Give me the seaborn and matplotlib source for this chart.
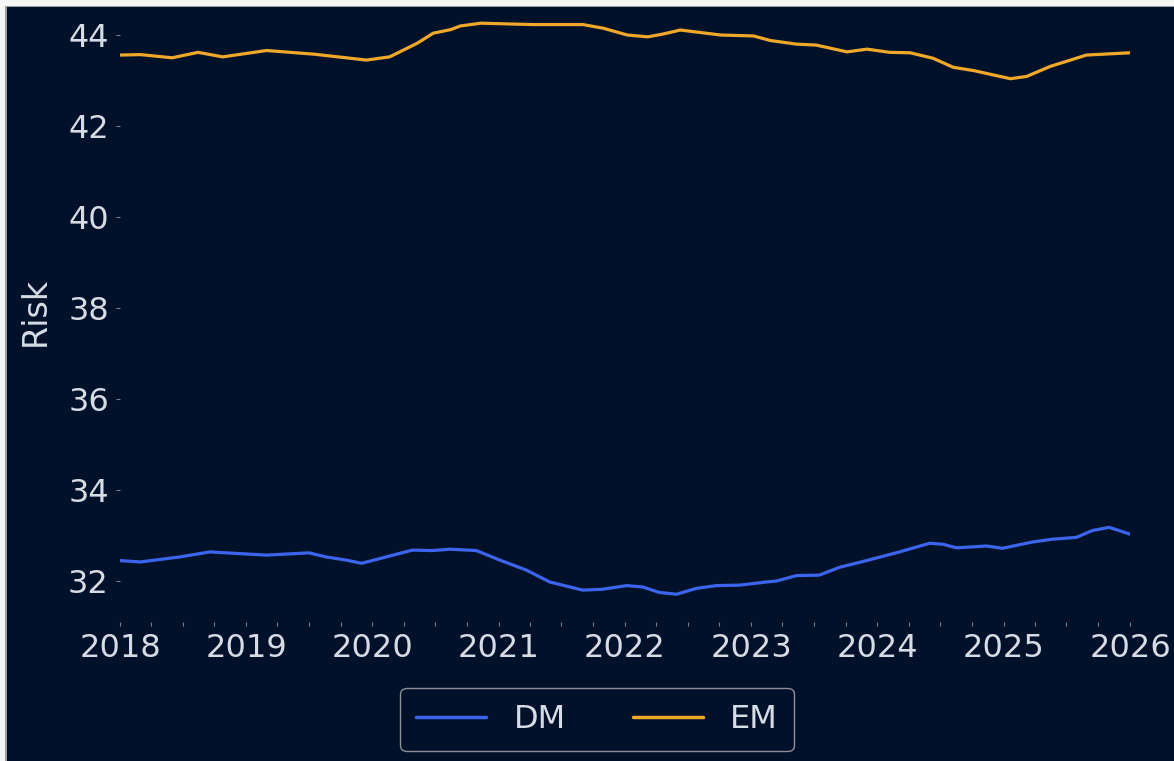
import matplotlib
matplotlib.use("Agg")
import matplotlib.pyplot as plt
import matplotlib.dates as mdates
from matplotlib.patches import Rectangle
import seaborn as sns
import pandas as pd

# Data
dm_dates = [
    "2018-01-01", "2018-03-01", "2018-06-23", "2018-09-18", "2019-03-01",
    "2019-07-02", "2019-08-20", "2019-10-18", "2019-12-01", "2020-02-20",
    "2020-04-26", "2020-06-23", "2020-08-12", "2020-10-28", "2021-01-04",
    "2021-03-22", "2021-05-28", "2021-09-01", "2021-10-28", "2022-01-06",
    "2022-02-21", "2022-04-10", "2022-05-30", "2022-07-27", "2022-09-23",
    "2022-11-28", "2023-02-15", "2023-03-15", "2023-05-12", "2023-07-17",
    "2023-09-13", "2023-12-01", "2024-03-05", "2024-05-31", "2024-07-08",
    "2024-08-17", "2024-11-12", "2024-12-28", "2025-03-26", "2025-05-22",
    "2025-07-30", "2025-09-14", "2025-11-02", "2026-01-01",
]
dm_values = [
    32.45, 32.42, 32.53, 32.64, 32.57,
    32.62, 32.53, 32.46, 32.39, 32.55,
    32.68, 32.67, 32.70, 32.67, 32.46,
    32.24, 31.98, 31.80, 31.82, 31.90,
    31.87, 31.75, 31.71, 31.84, 31.90,
    31.91, 31.98, 32.00, 32.12, 32.13,
    32.30, 32.45, 32.64, 32.83, 32.81,
    32.73, 32.77, 32.72, 32.86, 32.92,
    32.96, 33.11, 33.18, 33.03,
]

em_dates = [
    "2018-01-01", "2018-03-01", "2018-06-01", "2018-08-15", "2018-10-25",
    "2019-03-01", "2019-07-15", "2019-12-15", "2020-02-20", "2020-05-10",
    "2020-06-25", "2020-08-15", "2020-09-12", "2020-11-10", "2021-04-10",
    "2021-09-01", "2021-10-30", "2022-01-08", "2022-03-08", "2022-04-20",
    "2022-06-10", "2022-10-05", "2023-01-08", "2023-02-25", "2023-05-12",
    "2023-07-08", "2023-10-05", "2023-12-02", "2024-02-05", "2024-04-05",
    "2024-06-10", "2024-08-08", "2024-10-05", "2025-01-20", "2025-03-08",
    "2025-05-15", "2025-08-28", "2026-01-01",
]
em_values = [
    43.56, 43.57, 43.50, 43.62, 43.52,
    43.66, 43.58, 43.45, 43.52, 43.82,
    44.04, 44.12, 44.20, 44.26, 44.23,
    44.23, 44.15, 44.00, 43.96, 44.02,
    44.11, 44.00, 43.98, 43.88, 43.80,
    43.78, 43.63, 43.69, 43.62, 43.61,
    43.49, 43.29, 43.22, 43.04, 43.09,
    43.31, 43.56, 43.61,
]

series_names = ["DM", "EM"]
series_colors = ["#3c64ec", "#f0a82a"]

bg = "#02112a"
fg = "#d6dce6"

df = pd.concat([
    pd.DataFrame({"date": pd.to_datetime(dm_dates), "Risk": dm_values, "series": "DM"}),
    pd.DataFrame({"date": pd.to_datetime(em_dates), "Risk": em_values, "series": "EM"}),
])

sns.set_style("dark")
plt.rcParams['font.family'] = ['DejaVu Sans']

W, H = 1174, 761
fig = plt.figure(figsize=(W / 100, H / 100), dpi=100, facecolor=bg)
ax = fig.add_axes([120 / W, (H - 622) / H, (1130 - 120) / W, 622 / H])
ax.set_facecolor(bg)

sns.lineplot(data=df, x="date", y="Risk", hue="series", hue_order=series_names,
             palette=dict(zip(series_names, series_colors)), linewidth=2.3, ax=ax)

ax.set_xlim(pd.Timestamp("2018-01-01"), pd.Timestamp("2026-01-01"))
ax.set_ylim(31.1, 44.77)
ax.set_yticks([32, 34, 36, 38, 40, 42, 44])
ax.xaxis.set_major_locator(mdates.YearLocator())
ax.xaxis.set_major_formatter(mdates.DateFormatter("%Y"))
ax.xaxis.set_minor_locator(mdates.MonthLocator(bymonth=[4, 7, 10]))

ax.grid(False)
for s in ax.spines.values():
    s.set_visible(False)

ax.tick_params(axis="both", which="major", labelsize=23, labelcolor=fg,
               color="#7a808c", length=3, width=0.8, direction="out", pad=5)
ax.tick_params(axis="x", which="minor", color="#7a808c", length=3, width=0.8,
               bottom=True)
ax.tick_params(axis="x", which="major", bottom=True)
ax.tick_params(axis="y", which="major", left=True)

ax.set_xlabel("")
ax.set_ylabel("Risk", fontsize=24, color=fg, labelpad=12)

ax.get_legend().remove()
handles, labels = ax.get_legend_handles_labels()
leg = fig.legend(handles, labels, loc="lower center", ncol=2,
                 bbox_to_anchor=(597 / W, 10 / H), fontsize=23,
                 frameon=True, facecolor=bg, edgecolor="#8c919b",
                 handlelength=2.2, columnspacing=2.1, handletextpad=0.85,
                 borderpad=0.5, borderaxespad=0, fancybox=True, framealpha=1)
for t in leg.get_texts():
    t.set_color(fg)
for ln in leg.get_lines():
    ln.set_linewidth(2.5)

# screenshot border (light band on top and left edges)
fig.add_artist(Rectangle((0, 1 - 6 / H), 1, 6 / H, transform=fig.transFigure,
                         facecolor="#f5f5f5", edgecolor="none", zorder=10))
fig.add_artist(Rectangle((0, 0), 5 / W, 1, transform=fig.transFigure,
                         facecolor="#f5f5f5", edgecolor="none", zorder=10))
fig.add_artist(Rectangle((5 / W, 1 - 7 / H), 1, 1 / H, transform=fig.transFigure,
                         facecolor="#9a9ea6", edgecolor="none", zorder=11))
fig.add_artist(Rectangle((5 / W, 0), 1.5 / W, 1 - 6 / H, transform=fig.transFigure,
                         facecolor="#9a9ea6", edgecolor="none", zorder=11))

fig.savefig("out.png", dpi=100, facecolor=bg)
plt.close(fig)
